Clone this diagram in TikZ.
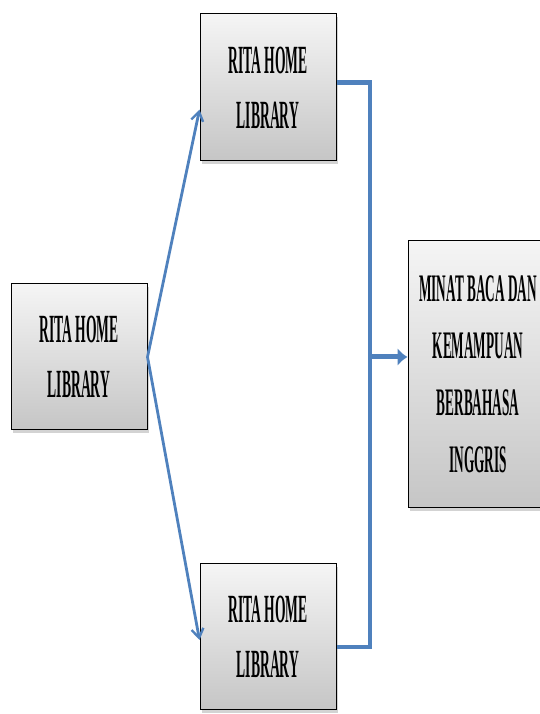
\documentclass[tikz,border=0pt]{standalone}
\usepackage{fontspec}
\newfontfamily\boxfont[FakeStretch=0.34]{Liberation Serif}
\usetikzlibrary{arrows.meta,calc,shadows}
\definecolor{linkblue}{RGB}{79,129,189}
\tikzset{
 libbox/.style={draw=black,line width=1pt,shade,top color=gray!8,bottom color=gray!45,
  drop shadow={shadow xshift=2pt,shadow yshift=-3pt,opacity=.35},
  align=center,inner sep=0,font=\boxfont\bfseries\fontsize{40}{55}\selectfont},
 thinlink/.style={draw=linkblue,line width=2.8pt,-{Straight Barb[length=9pt,width=12pt,line width=2.4pt]}},
 thicklink/.style={draw=linkblue,line width=4.5pt},
 bigarrow/.style={draw=linkblue,line width=5pt,-{Latex[length=10pt,width=18pt]}}
}
\begin{document}
\begin{tikzpicture}[x=1pt,y=1pt]
\path[use as bounding box] (0,0) rectangle (539,714);
\node[libbox,minimum width=136pt,minimum height=146pt] (lib) at (79,357) {RITA HOME\\LIBRARY};
\node[libbox,minimum width=136pt,minimum height=147pt] (topLib) at (268,626.5) {RITA HOME\\LIBRARY};
\node[libbox,minimum width=136pt,minimum height=146pt] (botLib) at (268,77) {RITA HOME\\LIBRARY};
\node[libbox,minimum width=140pt,minimum height=267pt,font=\boxfont\bfseries\fontsize{39}{57}\selectfont]
 (minat) at (478,339.5) {MINAT BACA DAN\\KEMAMPUAN\\BERBAHASA\\INGGRIS};
\coordinate (join) at (370,357);
\draw[thinlink] (lib.east) -- ($(topLib.north west)!.65!(topLib.south west)$);
\draw[thinlink] (lib.east) -- ($(botLib.north west)!.52!(botLib.south west)$);
\draw[thicklink,line join=miter] ($(topLib.east)+(0,5)$) -| (join |- botLib.east) |- ($(botLib.east)+(0,-10)$);
\draw[bigarrow] (join) -- (minat.west |- join);
\end{tikzpicture}
\end{document}
